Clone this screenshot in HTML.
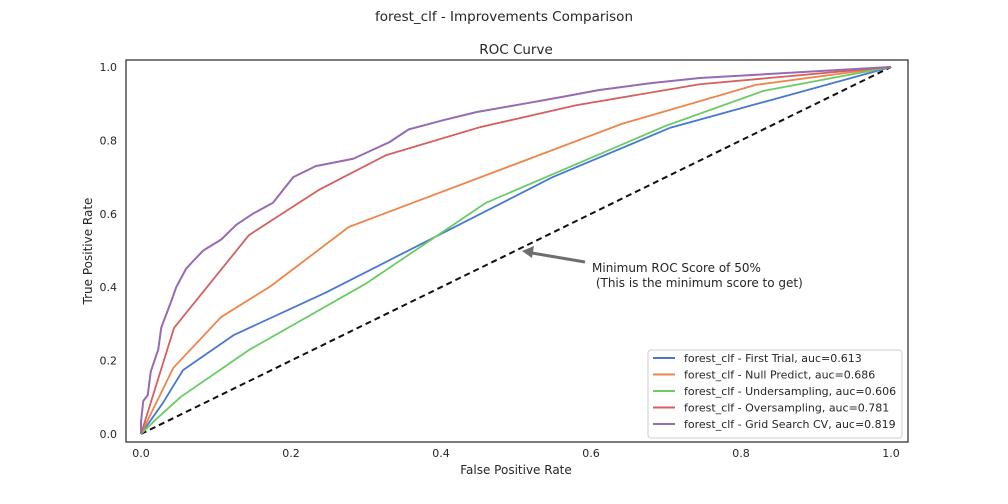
<!DOCTYPE html>
<html><head><meta charset="utf-8"><style>
body{margin:0;background:#fff;}
svg{display:block;font-family:"DejaVu Sans","Liberation Sans",sans-serif;}
</style></head><body>
<svg id="c" width="1008" height="504">
<text x="504" y="21" text-anchor="middle" font-size="13.5" fill="#262626">forest_clf - Improvements Comparison</text>
<text x="516" y="54" text-anchor="middle" font-size="13.5" fill="#262626">ROC Curve</text>
<rect x="126" y="60" width="782" height="382" fill="#fff" stroke="#262626" stroke-width="1.2"/>
<g id="ticks"></g>
<text x="516" y="474" text-anchor="middle" font-size="12" fill="#262626">False Positive Rate</text>
<text transform="translate(92,251) rotate(-90)" text-anchor="middle" font-size="12" fill="#262626">True Positive Rate</text>
<g id="series"></g>
<g>
<line x1="585" y1="262" x2="532" y2="253" stroke="#6e6e6e" stroke-width="3"/>
<polygon points="522,251 534,246 532,258" fill="#6e6e6e"/>
<text x="592" y="272" font-size="12" fill="#262626">Minimum ROC Score of 50%</text>
<text x="592" y="287" font-size="12" fill="#262626" xml:space="preserve"> (This is the minimum score to get)</text>
</g>
<g id="legend">
<rect x="648" y="350" width="254" height="88" rx="3" fill="#fff" stroke="#ccc"/>
</g>
</svg>
<script>
const xTicks=[0,0.2,0.4,0.6,0.8,1.0];
const yTicks=[0,0.2,0.4,0.6,0.8,1.0];
const names=["forest_clf - First Trial, auc=0.613","forest_clf - Null Predict, auc=0.686","forest_clf - Undersampling, auc=0.606","forest_clf - Oversampling, auc=0.781","forest_clf - Grid Search CV, auc=0.819"];
const colors=["#4878d0","#ee854a","#6acc64","#d65f5f","#956cb4"];
const blueX=[0,0.029,0.056,0.124,0.245,0.549,0.705,1];
const blueY=[0,0.084,0.174,0.27,0.384,0.70,0.834,1];
const orangeX=[0,0.043,0.107,0.173,0.277,0.641,0.819,1];
const orangeY=[0,0.18,0.319,0.403,0.564,0.845,0.951,1];
const greenX=[0,0.02,0.053,0.144,0.3,0.46,0.62,0.7,0.83,1];
const greenY=[0,0.04,0.101,0.229,0.41,0.63,0.77,0.84,0.935,1];
const redX=[0,0.044,0.144,0.237,0.327,0.452,0.581,0.745,1];
const redY=[0,0.289,0.542,0.665,0.76,0.836,0.896,0.953,1];
const purpleX=[0,0,0.003,0.009,0.013,0.023,0.027,0.04,0.047,0.06,0.069,0.083,0.107,0.127,0.149,0.176,0.203,0.233,0.283,0.331,0.357,0.403,0.447,0.511,0.56,0.61,0.68,0.745,0.88,1];
const purpleY=[0,0.033,0.09,0.106,0.17,0.23,0.29,0.36,0.4,0.45,0.47,0.5,0.53,0.57,0.6,0.63,0.70,0.73,0.75,0.795,0.83,0.855,0.877,0.90,0.918,0.937,0.956,0.97,0.986,1];
const sx=v=>141+v*750, sy=v=>434-v*367;
const NS="http://www.w3.org/2000/svg";
function mk(t,a,p){const e=document.createElementNS(NS,t);for(const k in a)e.setAttribute(k,a[k]);p.appendChild(e);return e;}
const tg=document.getElementById('ticks');
xTicks.forEach(v=>{const t=mk('text',{x:sx(v),y:457,'text-anchor':'middle','font-size':11,fill:'#262626'},tg);t.textContent=v.toFixed(1);

});
yTicks.forEach(v=>{const t=mk('text',{x:117,y:sy(v)+4,'text-anchor':'end','font-size':11,fill:'#262626'},tg);t.textContent=v.toFixed(1);

});
const sg=document.getElementById('series');
const d=mk('line',{x1:sx(0),y1:sy(0),x2:sx(1),y2:sy(1),stroke:'#111','stroke-width':2,'stroke-dasharray':'6,4'},sg);


const all=[[blueX,blueY],[orangeX,orangeY],[greenX,greenY],[redX,redY],[purpleX,purpleY]];
const snames=['series-first-trial','series-null-predict','series-undersampling','series-oversampling','series-grid-search'];
all.forEach((s,i)=>{
 const pts=s[0].map((x,j)=>sx(x)+','+sy(s[1][j]));
 const p=mk('polyline',{points:pts.join(' '),fill:'none',stroke:colors[i],'stroke-width':i==4?2:1.8,'stroke-linejoin':'round'},sg);
 
 
});
const lg=document.getElementById('legend');
names.forEach((n,i)=>{const y=358+i*16.5;
 const g=mk('g',{},lg);
 
 
 mk('line',{x1:653,y1:y,x2:675,y2:y,stroke:colors[i],'stroke-width':2},g);
 const t=mk('text',{x:684,y:y+4,'font-size':11,fill:'#262626'},g);t.textContent=n;});
</script>
</body></html>
